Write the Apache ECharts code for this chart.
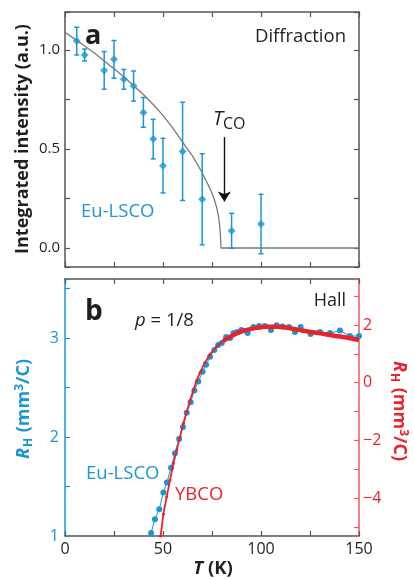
<!DOCTYPE html>
<html>
<head>
<meta charset="utf-8">
<script src="https://cdn.jsdelivr.net/npm/echarts@6/dist/echarts.min.js"></script>
<style>
html, body { margin: 0; padding: 0; background: #fff; }
#chart { width: 414px; height: 579px; }
</style>
</head>
<body>
<div id="chart"></div>
<script>
// panel a: diffraction intensity, Eu-LSCO
var diffT = [6, 10, 20, 25, 30, 35, 40, 45, 50, 60, 70, 85, 100];
var diffI = [1.045, 0.975, 0.897, 0.953, 0.852, 0.818, 0.685, 0.55, 0.416, 0.488, 0.246, 0.087, 0.121];
var diffErr = [0.07, 0.03, 0.095, 0.095, 0.05, 0.076, 0.075, 0.1, 0.138, 0.248, 0.23, 0.088, 0.15];
var fitT = [0, 5, 10, 15, 20, 25, 30, 35, 40, 45, 50, 55, 60, 65, 68, 70, 72, 74, 76, 77.5, 78.5, 79.2, 79.6, 150];
var fitI = [1.09, 1.055, 1.02, 0.985, 0.945, 0.905, 0.865, 0.82, 0.775, 0.725, 0.67, 0.605, 0.535, 0.465, 0.415, 0.38, 0.34, 0.30, 0.25, 0.20, 0.15, 0.08, 0, 0];
var tcoArrow = [81.3, 0.56, 0.235];

// panel b: Hall coefficient
var lscoT = [43.9, 45.9, 48.1, 50.2, 52.0, 54.1, 56.1, 58.2, 60.2, 62.1, 64.1, 66.0, 68.0, 70.2, 72.0, 74.0, 76.2, 78.2, 80.0, 82.2, 84.2, 86.0, 88.0, 90.0, 93.2, 96.1, 99.0, 102.0, 105.1, 108.0, 111.0, 114.3, 117.3, 120.2, 125.3, 130.1, 135.2, 140.3, 145.4, 150.0];
var lscoR = [1.03, 1.17, 1.27, 1.44, 1.54, 1.69, 1.835, 1.98, 2.10, 2.245, 2.35, 2.47, 2.56, 2.66, 2.73, 2.81, 2.88, 2.93, 2.95, 3.01, 3.00, 3.05, 3.06, 3.08, 3.05, 3.11, 3.12, 3.12, 3.08, 3.13, 3.115, 3.11, 3.06, 3.11, 3.04, 3.06, 3.05, 3.075, 3.02, 3.02];
var ybcoT = [48.8, 50.2, 51.9, 53.6, 55.3, 57.0, 58.7, 60.4, 62.1, 63.8, 65.5, 67.2, 68.9, 71.4, 74.0, 77.4, 80.8, 85.9, 91.0, 97.8, 103.0, 108.0, 114.8, 121.6, 130.1, 140.3, 150.0];
var ybcoR = [-5.31, -4.55, -3.95, -3.37, -2.80, -2.33, -1.87, -1.41, -1.00, -0.62, -0.25, 0.08, 0.35, 0.70, 0.98, 1.26, 1.45, 1.65, 1.80, 1.90, 1.94, 1.94, 1.89, 1.80, 1.71, 1.60, 1.48];

// tick labels
var tLabels = [0, 50, 100, 150];
var intensityLabels = [0, 0.5, 1];
var lscoLabels = [1, 2, 3];
var ybcoLabels = [-4, -2, 0, 2];

var FONT = '"Open Sans", sans-serif';
var BLUE = '#1b96d4';
var RED = '#e8232b';
var DARK = '#1f1f1f';
var FRAME = '#555';

function pairs(xs, ys) {
  return xs.map(function (x, i) { return [x, ys[i]]; });
}
function isIn(list, v) {
  return list.some(function (l) { return Math.abs(l - v) < 1e-6; });
}

function xAx(grid, pos, showLabel) {
  return {
    type: 'value', gridIndex: grid, position: pos, min: 0, max: 150, interval: 25,
    axisLine: { show: true, onZero: false, lineStyle: { color: FRAME, width: 1.5 } },
    axisTick: { show: true, inside: true, length: 5, lineStyle: { color: FRAME, width: 1.2 } },
    axisLabel: {
      show: showLabel, margin: 5, color: DARK, fontFamily: FONT, fontSize: 16,
      formatter: function (v) { return isIn(tLabels, v) ? String(v) : ''; }
    },
    splitLine: { show: false }
  };
}

var chart = echarts.init(document.getElementById('chart'), null, { renderer: 'canvas' });

var option = {
  animation: false,
  backgroundColor: '#fff',
  grid: [
    { left: 65, top: 12, width: 294, height: 255 },
    { left: 65, top: 279, width: 294, height: 257 }
  ],
  xAxis: [xAx(0, 'bottom', false), xAx(0, 'top', false), xAx(1, 'bottom', true), xAx(1, 'top', false)],
  yAxis: [
    {
      type: 'value', gridIndex: 0, position: 'left', min: -0.096, max: 1.192,
      minInterval: 0.25, maxInterval: 0.25,
      axisLine: { show: true, onZero: false, lineStyle: { color: FRAME, width: 1.5 } },
      axisTick: { show: true, inside: true, length: 5, lineStyle: { color: FRAME, width: 1.2 } },
      axisLabel: {
        margin: 5, color: DARK, fontFamily: FONT, fontSize: 15,
        formatter: function (v) { return isIn(intensityLabels, v) ? v.toFixed(1) : ''; }
      },
      splitLine: { show: false }
    },
    {
      type: 'value', gridIndex: 0, position: 'right', min: -0.096, max: 1.192,
      minInterval: 0.25, maxInterval: 0.25,
      axisLine: { show: true, onZero: false, lineStyle: { color: FRAME, width: 1.5 } },
      axisTick: { show: true, inside: true, length: 5, lineStyle: { color: FRAME, width: 1.2 } },
      axisLabel: { show: false },
      splitLine: { show: false }
    },
    {
      type: 'value', gridIndex: 1, position: 'left', min: 1, max: 3.596, interval: 0.5,
      axisLine: { show: true, onZero: false, lineStyle: { color: BLUE, width: 1.5 } },
      axisTick: { show: true, inside: true, length: 5, lineStyle: { color: BLUE, width: 1.2 } },
      axisLabel: {
        margin: 6, color: BLUE, fontFamily: FONT, fontSize: 16,
        formatter: function (v) { return isIn(lscoLabels, v) ? String(Math.round(v)) : ''; }
      },
      splitLine: { show: false }
    },
    {
      type: 'value', gridIndex: 1, position: 'right', min: -5.314, max: 3.594,
      minInterval: 1, maxInterval: 1,
      axisLine: { show: true, onZero: false, lineStyle: { color: '#f05a5a', width: 1.5 } },
      axisTick: { show: true, inside: true, length: 5, lineStyle: { color: '#f05a5a', width: 1.2 } },
      axisLabel: {
        margin: 4, color: RED, fontFamily: FONT, fontSize: 16,
        formatter: function (v) {
          if (!isIn(ybcoLabels, v)) return '';
          var r = Math.round(v);
          return r < 0 ? '\u2212' + Math.abs(r) : String(r);
        }
      },
      splitLine: { show: false }
    }
  ],
  series: [
    {
      name: 'fit', type: 'line', xAxisIndex: 0, yAxisIndex: 0,
      data: pairs(fitT, fitI), showSymbol: false, z: 2,
      lineStyle: { color: '#7a7a7a', width: 1.3 },
      markLine: {
        silent: true, symbol: ['none', 'arrow'], symbolSize: 10,
        label: { show: false },
        lineStyle: { color: '#111', width: 1.4, type: 'solid' },
        data: [[{ coord: [tcoArrow[0], tcoArrow[1]] }, { coord: [tcoArrow[0], tcoArrow[2]] }]]
      }
    },
    {
      name: 'errors', type: 'custom', xAxisIndex: 0, yAxisIndex: 0, z: 3,
      data: diffT.map(function (t, i) { return [t, diffI[i] - diffErr[i], diffI[i] + diffErr[i]]; }),
      encode: { x: 0, y: [1, 2] },
      renderItem: function (params, api) {
        var lo = api.coord([api.value(0), api.value(1)]);
        var hi = api.coord([api.value(0), api.value(2)]);
        var w = 2.5;
        var st = { stroke: BLUE, lineWidth: 1.5 };
        return {
          type: 'group',
          children: [
            { type: 'line', shape: { x1: lo[0], y1: lo[1], x2: hi[0], y2: hi[1] }, style: st },
            { type: 'line', shape: { x1: lo[0] - w, y1: lo[1], x2: lo[0] + w, y2: lo[1] }, style: st },
            { type: 'line', shape: { x1: hi[0] - w, y1: hi[1], x2: hi[0] + w, y2: hi[1] }, style: st }
          ]
        };
      }
    },
    {
      name: 'Eu-LSCO diffraction', type: 'scatter', xAxisIndex: 0, yAxisIndex: 0, z: 4,
      data: pairs(diffT, diffI), symbol: 'diamond', symbolSize: 8,
      itemStyle: { color: BLUE }
    },
    {
      name: 'Eu-LSCO', type: 'line', xAxisIndex: 2, yAxisIndex: 2, z: 2,
      data: pairs(lscoT, lscoR), symbol: 'circle', symbolSize: 6, showAllSymbol: true,
      lineStyle: { color: BLUE, width: 1 }, itemStyle: { color: BLUE }
    },
    {
      name: 'YBCO', type: 'line', xAxisIndex: 2, yAxisIndex: 3, z: 3,
      data: pairs(ybcoT, ybcoR).filter(function (p) { return p[0] <= 86; }),
      symbol: 'circle', symbolSize: 3, showAllSymbol: true,
      lineStyle: { color: RED, width: 1.8 }, itemStyle: { color: RED }
    },
    {
      name: 'YBCO dense', type: 'line', xAxisIndex: 2, yAxisIndex: 3, z: 3,
      data: pairs(ybcoT, ybcoR).filter(function (p) { return p[0] >= 80; }),
      showSymbol: false, smooth: 0.3,
      lineStyle: { color: RED, width: 4.5 }
    }
  ],
  graphic: [
    { type: 'text', x: 85, y: 36, style: { text: 'a', fontFamily: FONT, fontWeight: 'bold', fontSize: 27, fill: DARK, align: 'left', verticalAlign: 'middle' } },
    { type: 'text', x: 346, y: 37, style: { text: 'Diffraction', fontFamily: FONT, fontSize: 18.5, fill: DARK, align: 'right', verticalAlign: 'middle' } },
    { type: 'text', x: 81, y: 212, style: { text: 'Eu-LSCO', fontFamily: FONT, fontSize: 18.5, fill: BLUE, align: 'left', verticalAlign: 'middle' } },
    {
      type: 'text', x: 213, y: 119,
      style: {
        text: '{i|T}{s|CO}', align: 'left', verticalAlign: 'middle',
        rich: {
          i: { fontFamily: FONT, fontStyle: 'italic', fontSize: 20, fill: DARK },
          s: { fontFamily: FONT, fontSize: 16, fill: DARK, padding: [11, 0, 0, 0] }
        }
      }
    },
    {
      type: 'text', x: 23, y: 139, rotation: Math.PI / 2,
      style: { text: 'Integrated intensity (a.u.)', fontFamily: FONT, fontWeight: 'bold', fontSize: 18, fill: DARK, align: 'center', verticalAlign: 'middle' }
    },
    { type: 'text', x: 85, y: 312, style: { text: 'b', fontFamily: FONT, fontWeight: 'bold', fontSize: 28, fill: DARK, align: 'left', verticalAlign: 'middle' } },
    {
      type: 'text', x: 135, y: 321,
      style: {
        text: '{i|p}{n| = 1/8}', align: 'left', verticalAlign: 'middle',
        rich: {
          i: { fontFamily: FONT, fontStyle: 'italic', fontSize: 18.5, fill: DARK },
          n: { fontFamily: FONT, fontSize: 18.5, fill: DARK }
        }
      }
    },
    { type: 'text', x: 346, y: 301, style: { text: 'Hall', fontFamily: FONT, fontSize: 18, fill: DARK, align: 'right', verticalAlign: 'middle' } },
    { type: 'text', x: 86, y: 474, style: { text: 'Eu-LSCO', fontFamily: FONT, fontSize: 18.5, fill: BLUE, align: 'left', verticalAlign: 'middle' } },
    { type: 'text', x: 175, y: 495, style: { text: 'YBCO', fontFamily: FONT, fontSize: 18.5, fill: RED, align: 'left', verticalAlign: 'middle' } },
    {
      type: 'text', x: 24, y: 409, rotation: Math.PI / 2,
      style: {
        text: '{i|R}{s|H}{n| (mm}{p|3}{n|/C)}', align: 'center', verticalAlign: 'middle',
        rich: {
          i: { fontFamily: FONT, fontWeight: 'bold', fontStyle: 'italic', fontSize: 18, fill: BLUE },
          s: { fontFamily: FONT, fontWeight: 'bold', fontSize: 12, fill: BLUE, padding: [9, 1, 0, 1] },
          n: { fontFamily: FONT, fontWeight: 'bold', fontSize: 18, fill: BLUE },
          p: { fontFamily: FONT, fontWeight: 'bold', fontSize: 12, fill: BLUE, padding: [0, 0, 9, 0] }
        }
      }
    },
    {
      type: 'text', x: 399, y: 411, rotation: -Math.PI / 2,
      style: {
        text: '{i|R}{s|H}{n| (mm}{p|3}{n|/C)}', align: 'center', verticalAlign: 'middle',
        rich: {
          i: { fontFamily: FONT, fontWeight: 'bold', fontStyle: 'italic', fontSize: 18, fill: RED },
          s: { fontFamily: FONT, fontWeight: 'bold', fontSize: 12, fill: RED, padding: [9, 1, 0, 1] },
          n: { fontFamily: FONT, fontWeight: 'bold', fontSize: 18, fill: RED },
          p: { fontFamily: FONT, fontWeight: 'bold', fontSize: 12, fill: RED, padding: [0, 0, 9, 0] }
        }
      }
    },
    {
      type: 'text', x: 213, y: 569,
      style: {
        text: '{i|T}{n| (K)}', align: 'center', verticalAlign: 'middle',
        rich: {
          i: { fontFamily: FONT, fontWeight: 'bold', fontStyle: 'italic', fontSize: 18.5, fill: DARK },
          n: { fontFamily: FONT, fontWeight: 'bold', fontSize: 18.5, fill: DARK }
        }
      }
    }
  ]
};

chart.setOption(option);
</script>
</body>
</html>
